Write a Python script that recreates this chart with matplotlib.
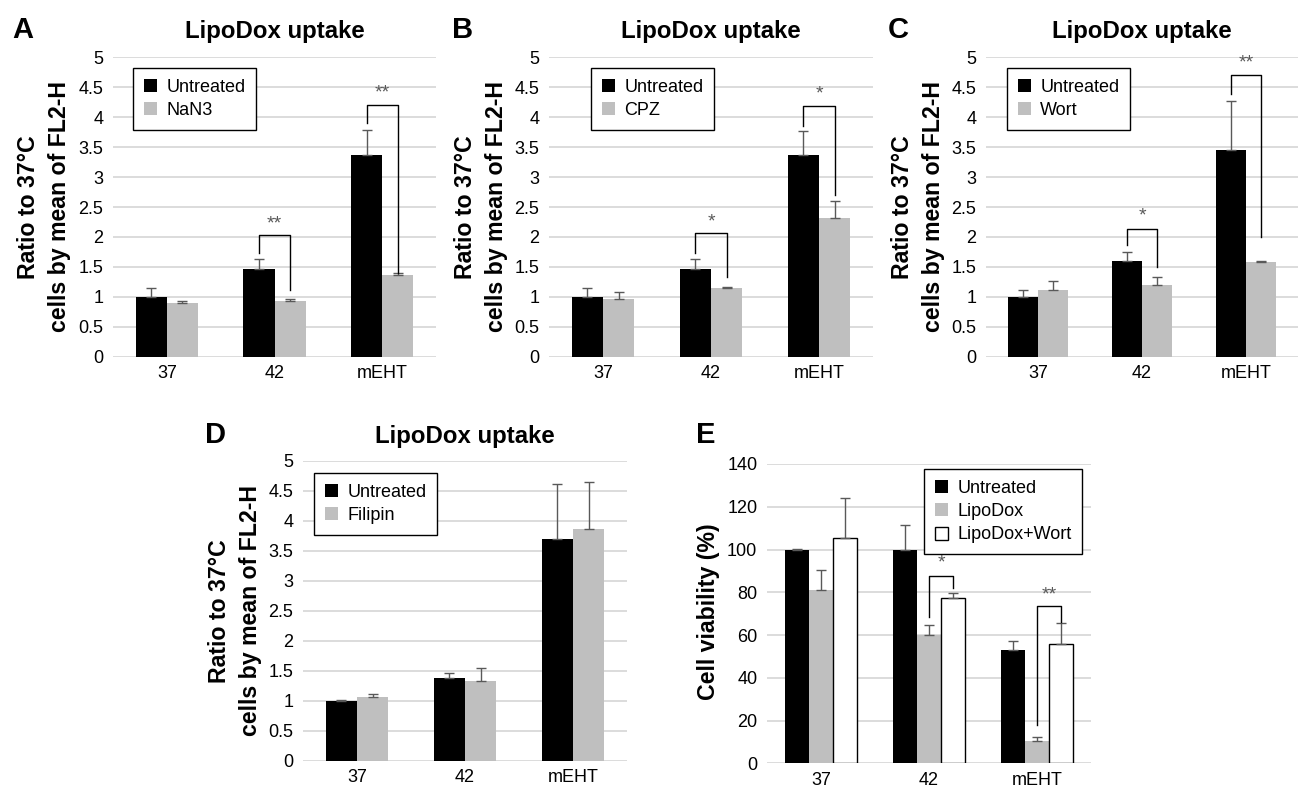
import matplotlib
matplotlib.use('Agg')
import matplotlib.pyplot as plt
import numpy as np
from matplotlib.patches import Patch

plt.rcParams['font.family'] = ['Liberation Sans', 'DejaVu Sans']

W, H = 1298, 787
fig = plt.figure(figsize=(W / 100, H / 100), dpi=100)

categories = ['37', '42', 'mEHT']

# ---------------- data ----------------
# Panel A
a_untreated = [1.00, 1.47, 3.37]
a_untreated_err = [0.15, 0.16, 0.41]
a_nan3 = [0.90, 0.93, 1.36]
a_nan3_err = [0.03, 0.04, 0.04]
# brackets: (category index, left leg bottom, top, right leg bottom, star y, label)
a_brackets = [(1, 1.73, 2.04, 1.11, 2.22, '**'), (2, 3.90, 4.20, 1.39, 4.40, '**')]

# Panel B
b_untreated = [1.00, 1.47, 3.37]
b_untreated_err = [0.15, 0.16, 0.40]
b_cpz = [0.97, 1.14, 2.32]
b_cpz_err = [0.11, 0.03, 0.28]
b_brackets = [(1, 1.74, 2.06, 1.33, 2.25, '*'), (2, 3.86, 4.18, 2.70, 4.38, '*')]

# Panel C
c_untreated = [1.00, 1.60, 3.46]
c_untreated_err = [0.12, 0.15, 0.81]
c_wort = [1.12, 1.20, 1.58]
c_wort_err = [0.14, 0.13, 0.01]
c_brackets = [(1, 1.86, 2.14, 1.50, 2.35, '*'), (2, 4.38, 4.70, 2.00, 4.90, '**')]

# Panel D
d_untreated = [1.00, 1.38, 3.70]
d_untreated_err = [0.005, 0.08, 0.91]
d_filipin = [1.07, 1.33, 3.86]
d_filipin_err = [0.05, 0.21, 0.79]

# Panel E
e_untreated = [100.0, 99.8, 53.0]
e_untreated_err = [0.3, 11.7, 4.0]
e_lipodox = [81.0, 60.0, 10.5]
e_lipodox_err = [9.5, 4.8, 2.0]
e_wort = [105.5, 77.3, 56.0]
e_wort_err = [18.5, 2.5, 9.8]
e_brackets = [(1, 68.6, 87.6, 81.9, 93.5, '*'), (2, 17.9, 73.6, 66.3, 78.7, '**')]

uptake_ticks = [0, 0.5, 1, 1.5, 2, 2.5, 3, 3.5, 4, 4.5, 5]
uptake_ticklabels = ['0', '0.5', '1', '1.5', '2', '2.5', '3', '3.5', '4', '4.5', '5']
viab_ticks = [0, 20, 40, 60, 80, 100, 120, 140]

BLACK = '#000000'
GRAY = '#bfbfbf'
ERRC = '#595959'
GRID = '#d9d9d9'

FS_TICK = 13
FS_TITLE = 17.3
FS_YLAB = 16.7
FS_LETTER = 21


def px_axes(l, r, t, b):
    return fig.add_axes([l / W, 1 - b / H, (r - l) / W, (b - t) / H])


def style(ax, ymax, ticks, ticklabels):
    ax.set_ylim(0, ymax)
    ax.set_xlim(-0.5, len(categories) - 0.5)
    ax.set_yticks(ticks)
    ax.set_yticklabels(ticklabels)
    ax.set_xticks(np.arange(len(categories)))
    ax.set_xticklabels(categories)
    for s in ax.spines.values():
        s.set_visible(False)
    ax.tick_params(axis='both', length=0, labelsize=FS_TICK, colors='#000000')
    ax.tick_params(axis='y', pad=7)
    ax.tick_params(axis='x', pad=6)
    ax.yaxis.grid(True, color=GRID, linewidth=1.3)
    ax.set_axisbelow(True)


def bars(ax, series, errs, colors, width, edges):
    n = len(series)
    x = np.arange(len(categories))
    centers = []
    for i, (vals, err, col, ec) in enumerate(zip(series, errs, colors, edges)):
        xs = x + (i - (n - 1) / 2) * width
        centers.append(xs)
        ax.bar(xs, vals, width, color=col, edgecolor=ec, linewidth=1.0 if ec != 'none' else 0, zorder=2)
        ax.errorbar(xs, vals, yerr=[np.zeros(len(vals)), err], fmt='none', ecolor=ERRC,
                    elinewidth=1.0, capsize=3.5, capthick=1.0, zorder=3)
    return centers


def brackets(ax, centers_left, centers_right, blist):
    for (ci, lb, top, rb, sy, lab) in blist:
        xl = centers_left[ci]
        xr = centers_right[ci]
        ax.plot([xl, xl, xr, xr], [lb, top, top, rb], color='black', linewidth=1.0, zorder=4)
        ax.text((xl + xr) / 2, sy, lab, ha='center', va='center', fontsize=14, color=ERRC, zorder=4)


def legend(ax, labels, colors, edges, l_px, t_px, ax_l, ax_t, ax_r, ax_b):
    handles = [Patch(facecolor=c, edgecolor=e, linewidth=1.0 if e != 'none' else 0) for c, e in zip(colors, edges)]
    bx = (l_px - ax_l) / (ax_r - ax_l)
    by = (ax_b - t_px) / (ax_b - ax_t)
    lg = ax.legend(handles, labels, loc='upper left', bbox_to_anchor=(bx, by), borderaxespad=0,
                   fontsize=FS_TICK, handlelength=0.75, handleheight=0.75, handletextpad=0.5,
                   labelspacing=0.35, borderpad=0.6, fancybox=False, framealpha=1)
    lg.get_frame().set_edgecolor('black')
    lg.get_frame().set_linewidth(1.0)


def ylab(xc, yc, text):
    fig.text(xc / W, 1 - yc / H, text, rotation=90, ha='center', va='center', fontsize=FS_YLAB,
             fontweight='bold', multialignment='center', linespacing=1.4)


def letter(x, y, t):
    fig.text(x / W, 1 - y / H, t, fontsize=FS_LETTER, fontweight='bold', ha='left', va='baseline')


YLABEL = 'Ratio to 37°C\ncells by mean of FL2-H'

# ---------------- top row ----------------
top_panels = [
    ('A', 113, 436, a_untreated, a_untreated_err, a_nan3, a_nan3_err, 'NaN3', a_brackets, 133, 44, 12),
    ('B', 549, 873, b_untreated, b_untreated_err, b_cpz, b_cpz_err, 'CPZ', b_brackets, 591, 481, 452),
    ('C', 986, 1298, c_untreated, c_untreated_err, c_wort, c_wort_err, 'Wort', c_brackets, 1007, 918, 888),
]
T, B_ = 57.3, 356.7
for (let, l, r, u, ue, t, te, tname, bl, legl, ylx, letx) in top_panels:
    ax = px_axes(l, r, T, B_)
    style(ax, 5, uptake_ticks, uptake_ticklabels)
    cen = bars(ax, [u, t], [ue, te], [BLACK, GRAY], 0.29, ['none', 'none'])
    brackets(ax, cen[0], cen[1], bl)
    ax.set_title('LipoDox uptake', fontsize=FS_TITLE, fontweight='bold', pad=14)
    legend(ax, ['Untreated', tname], [BLACK, GRAY], ['none', 'none'], legl, 68, l, T, r, B_)
    ylab(ylx, 207, YLABEL)
    letter(letx, 38, let)

# ---------------- panel D ----------------
dl, dr, dt, db = 303, 627, 461, 760.7
axd = px_axes(dl, dr, dt, db)
style(axd, 5, uptake_ticks, uptake_ticklabels)
bars(axd, [d_untreated, d_filipin], [d_untreated_err, d_filipin_err], [BLACK, GRAY], 0.29, ['none', 'none'])
axd.set_title('LipoDox uptake', fontsize=FS_TITLE, fontweight='bold', pad=13)
legend(axd, ['Untreated', 'Filipin'], [BLACK, GRAY], ['none', 'none'], 314, 473, dl, dt, dr, db)
ylab(235, 611, YLABEL)
letter(205, 443, 'D')

# ---------------- panel E ----------------
el, er, et, eb = 767, 1091, 464, 763.3
axe = px_axes(el, er, et, eb)
style(axe, 140, viab_ticks, [str(v) for v in viab_ticks])
cen = bars(axe, [e_untreated, e_lipodox, e_wort], [e_untreated_err, e_lipodox_err, e_wort_err],
           [BLACK, GRAY, 'white'], 0.224, ['none', 'none', 'black'])
brackets(axe, cen[1], cen[2], e_brackets)
legend(axe, ['Untreated', 'LipoDox', 'LipoDox+Wort'], [BLACK, GRAY, 'white'], ['none', 'none', 'black'],
       924, 469, el, et, er, eb)
ylab(708, 612, 'Cell viability (%)')
letter(696, 443, 'E')

fig.savefig('out.png', dpi=100)
